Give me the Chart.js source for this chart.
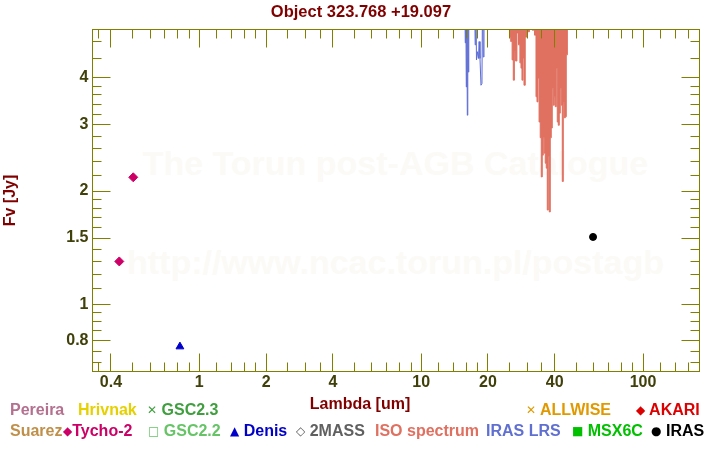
<!DOCTYPE html>
<html>
<head>
<meta charset="utf-8">
<title>Object 323.768 +19.097</title>
<script src="https://cdn.jsdelivr.net/npm/chart.js@4"></script>
<style>
  body { margin: 0; background: #fff; }
  #wrap {
    position: relative; width: 720px; height: 450px; overflow: hidden;
    font-family: "Liberation Sans", Arial, sans-serif; font-weight: bold;
  }
  #chart { position: absolute; left: 0; top: 0; z-index: 1; }
  .wm {
    position: absolute; left: 92px; width: 607px; text-align: center;
    font-size: 34px; line-height: 34px; color: #fcfaf6; white-space: nowrap; z-index: 0;
  }
  .txt { position: absolute; white-space: nowrap; font-size: 16px; line-height: 16px; z-index: 2; }
  .sym { font-family: "DejaVu Sans", sans-serif; font-size: 12px; vertical-align: 1px; }
  #title { font-size: 16.5px; line-height: 17px; }
</style>
</head>
<body>
<div id="wrap">
  <div class="wm" style="top:146px">The Torun post-AGB Catalogue</div>
  <div class="wm" style="top:245px">http://www.ncac.torun.pl/postagb</div>
  <canvas id="chart" width="720" height="450"></canvas>

  <div id="title" class="txt" style="left:0;width:722px;text-align:center;top:3px;color:#800000">Object 323.768 +19.097</div>
  <div class="txt" style="left:0;width:720px;text-align:center;top:396px;color:#800000">Lambda [um]</div>

  <div class="txt" style="left:10px;top:402px;color:#b3708f">Pereira</div>
  <div class="txt" style="left:78px;top:402px;color:#e6d000">Hrivnak</div>
  <div class="txt" style="left:147px;top:402px;color:#3f9f3f"><span class="sym">✕</span> GSC2.3</div>
  <div class="txt" style="left:526px;top:402px;color:#e09a00"><span class="sym">✕</span> ALLWISE</div>
  <div class="txt" style="left:636px;top:402px;color:#dd0000"><span class="sym">◆</span> AKARI</div>

  <div class="txt" style="left:10px;top:423px;color:#c0904a">Suarez</div>
  <div class="txt" style="left:63px;top:423px;color:#cc0066"><span class="sym">◆</span>Tycho-2</div>
  <div class="txt" style="left:148px;top:423px;color:#66c466"><span class="sym">□</span> GSC2.2</div>
  <div class="txt" style="left:230px;top:423px;color:#0000c8"><span class="sym">▲</span> Denis</div>
  <div class="txt" style="left:296px;top:423px;color:#606060"><span class="sym">◇</span> 2MASS</div>
  <div class="txt" style="left:375px;top:423px;color:#e07060">ISO spectrum</div>
  <div class="txt" style="left:486px;top:423px;color:#6070d0">IRAS LRS</div>
  <div class="txt" style="left:572px;top:423px;color:#00c000"><span class="sym">■</span> MSX6C</div>
  <div class="txt" style="left:651px;top:423px;color:#000"><span class="sym">●</span> IRAS</div>
</div>

<script>
const AXIS_COLOR = "#808000";
const LABEL_COLOR = "#40400a";

// axis ranges (um, Jy)
const X_MIN = 0.3302, X_MAX = 179.6;
const Y_MIN = 0.663, Y_MAX = 5.372;

const xMajor = [0.4, 1, 2, 4, 10, 20, 40, 100];
const xMinor = [0.35, 0.5, 0.6, 0.7, 0.8, 0.9, 1.2, 1.4, 1.6, 1.8, 2.5, 3, 3.5,
  5, 6, 7, 8, 9, 12, 14, 16, 18, 25, 30, 35, 50, 60, 70, 80, 90, 120, 140, 160, 180];
const yMajor = [0.8, 1, 1.5, 2, 3, 4];
const yMinor = [0.7, 0.75, 0.85, 0.9, 0.95, 1.1, 1.2, 1.3, 1.4, 1.6, 1.7, 1.8, 1.9,
  2.2, 2.4, 2.6, 2.8, 3.2, 3.4, 3.6, 3.8, 4.5, 5];

// photometry
const tychoWave = [0.436, 0.504];
const tychoFlux = [1.30, 2.175];
const denisWave = [0.818];
const denisFlux = [0.772];
const irasWave = [59.5];
const irasFlux = [1.51];

// ISO spectrum (only the part dipping below the top of the frame)
const isoWave = [24.87, 25.13, 25.52, 25.87, 26.14, 26.47, 26.80, 27.22, 27.68, 28.03,
  28.31, 28.61, 28.91, 29.21, 29.67, 30.29, 31.24, 32.07, 32.75, 33.09, 33.43, 33.78,
  34.20, 34.59, 34.95, 35.32, 35.68, 36.06, 36.43, 36.81, 37.20, 37.58, 37.98, 38.37,
  38.78, 39.18, 39.59, 40.00, 40.42, 40.84, 41.26, 41.70, 42.13, 42.57, 43.01, 43.47,
  43.92, 44.38, 44.84, 45.31, 45.87];
const isoFlux = [7.0, 5.12, 4.99, 4.46, 3.94, 4.69, 4.43, 5.26, 4.89, 4.38,
  4.24, 3.94, 4.51, 3.82, 5.13, 5.30, 7.0, 5.35, 5.19, 3.56, 3.45, 3.99,
  3.05, 2.77, 2.18, 2.49, 2.77, 2.52, 2.37, 2.30, 1.78, 2.47, 1.76, 2.77,
  2.94, 3.75, 3.38, 3.56, 3.35, 4.24, 3.05, 2.99, 3.22, 3.75, 3.38, 2.12,
  3.43, 3.13, 3.15, 4.60, 7.0];

// IRAS LRS
const lrsWave = [15.72, 15.80, 15.88, 15.97, 16.05, 16.14, 16.22, 16.31, 16.39,
  17.39, 17.51, 17.62, 17.75, 17.93, 18.12, 18.25, 18.41, 18.60, 18.79, 18.91, 19.05, 19.19];
const lrsFlux = [7.0, 4.95, 7.0, 3.78, 7.0, 3.18, 7.0, 4.14, 7.0,
  7.0, 4.89, 7.0, 4.46, 4.69, 4.50, 4.99, 4.50, 3.82, 3.86, 7.0, 4.54, 7.0];

const pts = (xs, ys) => xs.map((x, i) => ({ x, y: ys[i] }));

const frameTicks = {
  id: "frameTicks",
  afterDatasetsDraw(chart) {
    const { ctx, chartArea: a, scales: { x, y } } = chart;
    const snap = (p) => Math.round(p - 0.5) + 0.5;
    ctx.save();
    ctx.strokeStyle = AXIS_COLOR;
    ctx.lineWidth = 1;
    ctx.beginPath();
    const xt = (v, len) => {
      const p = snap(x.getPixelForValue(v));
      ctx.moveTo(p, a.bottom); ctx.lineTo(p, a.bottom - len);
      ctx.moveTo(p, a.top); ctx.lineTo(p, a.top + len);
    };
    const yt = (v, len) => {
      const p = snap(y.getPixelForValue(v));
      ctx.moveTo(a.left, p); ctx.lineTo(a.left + len, p);
      ctx.moveTo(a.right, p); ctx.lineTo(a.right - len, p);
    };
    xMajor.forEach((v) => xt(v, 18));
    xMinor.forEach((v) => xt(v, 9));
    yMajor.forEach((v) => yt(v, 18));
    yMinor.forEach((v) => yt(v, 9));
    ctx.stroke();
    ctx.strokeRect(a.left, a.top, a.right - a.left, a.bottom - a.top);
    ctx.restore();
  },
};

Chart.defaults.font.family = '"Liberation Sans", Arial, sans-serif';

new Chart(document.getElementById("chart"), {
  type: "line",
  data: {
    datasets: [
      {
        label: "ISO spectrum",
        data: pts(isoWave, isoFlux),
        borderColor: "#e07060",
        backgroundColor: "#e07060",
        borderWidth: 1,
        pointRadius: 0,
        stepped: "middle",
        fill: "end",
      },
      {
        label: "IRAS LRS",
        data: pts(lrsWave, lrsFlux),
        borderColor: "#5c6cd4",
        borderWidth: 1,
        pointRadius: 0,
        fill: false,
      },
      {
        label: "Tycho-2",
        data: pts(tychoWave, tychoFlux),
        showLine: false,
        pointStyle: "rectRot",
        pointRadius: 4.5,
        pointBackgroundColor: "#cc0066",
        pointBorderColor: "#cc0066",
      },
      {
        label: "Denis",
        data: pts(denisWave, denisFlux),
        showLine: false,
        pointStyle: "triangle",
        pointRadius: 4.5,
        pointBackgroundColor: "#0000cc",
        pointBorderColor: "#0000cc",
      },
      {
        label: "IRAS",
        data: pts(irasWave, irasFlux),
        showLine: false,
        pointStyle: "circle",
        pointRadius: 3.5,
        pointBackgroundColor: "#000",
        pointBorderColor: "#000",
      },
    ],
  },
  options: {
    responsive: false,
    animation: false,
    layout: { padding: { top: 29.5, right: 20.5, left: 0, bottom: 0 } },
    plugins: { legend: { display: false }, tooltip: { enabled: false } },
    scales: {
      x: {
        type: "logarithmic",
        min: X_MIN,
        max: X_MAX,
        bounds: "data",
        grid: { display: false, drawTicks: false },
        border: { display: false },
        afterBuildTicks: (s) => { s.ticks = xMajor.map((v) => ({ value: v })); },
        afterFit: (s) => { s.height = 78.5; },
        ticks: {
          autoSkip: false,
          maxRotation: 0,
          padding: 1,
          color: LABEL_COLOR,
          font: { size: 16, weight: "bold" },
          callback: (v) => String(v),
        },
      },
      y: {
        type: "logarithmic",
        min: Y_MIN,
        max: Y_MAX,
        bounds: "data",
        grid: { display: false, drawTicks: false },
        border: { display: false },
        afterBuildTicks: (s) => { s.ticks = yMajor.map((v) => ({ value: v })); },
        afterFit: (s) => { s.width = 92.5; },
        title: {
          display: true,
          text: "Fv [Jy]",
          color: "#800000",
          font: { size: 16, weight: "bold" },
          padding: { top: 1, bottom: 0 },
        },
        ticks: {
          autoSkip: false,
          padding: 4,
          color: LABEL_COLOR,
          font: { size: 16, weight: "bold" },
          callback: (v) => String(v),
        },
      },
    },
  },
  plugins: [frameTicks],
});
</script>
</body>
</html>
